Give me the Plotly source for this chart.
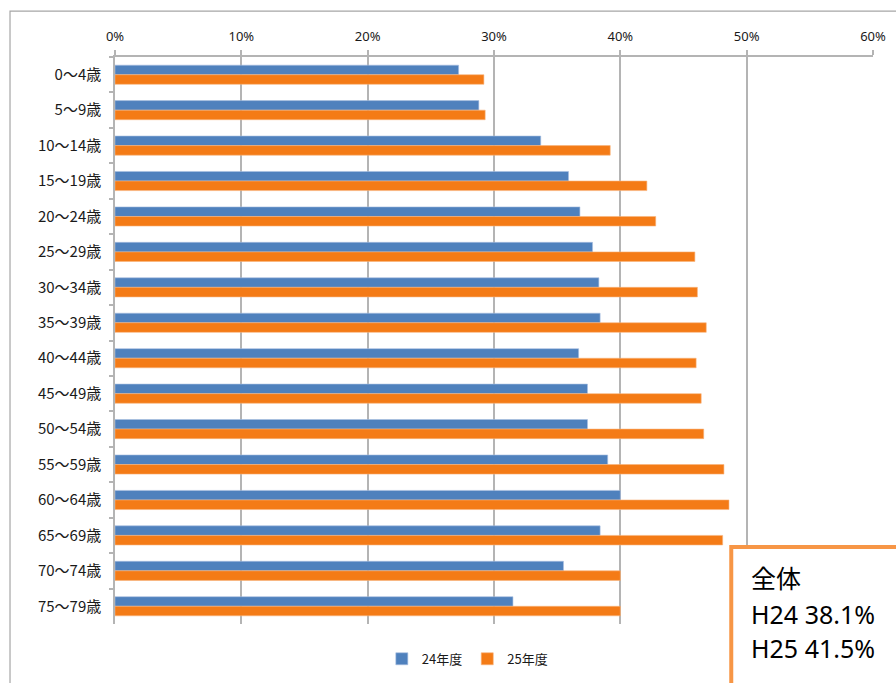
import plotly.graph_objects as go

# Age groups and the share for each fiscal year (fraction)
age_groups = ["0～4歳", "5～9歳", "10～14歳", "15～19歳", "20～24歳", "25～29歳",
              "30～34歳", "35～39歳", "40～44歳", "45～49歳", "50～54歳", "55～59歳",
              "60～64歳", "65～69歳", "70～74歳", "75～79歳"]
fy24 = [0.272, 0.288, 0.337, 0.359, 0.368, 0.378, 0.383, 0.384, 0.367, 0.374,
        0.374, 0.390, 0.400, 0.384, 0.355, 0.315]
fy25 = [0.292, 0.293, 0.392, 0.421, 0.428, 0.459, 0.461, 0.468, 0.460, 0.464,
        0.466, 0.482, 0.486, 0.481, 0.400, 0.400]
series_names = ["24年度", "25年度"]
x_ticks = [0, 0.1, 0.2, 0.3, 0.4, 0.5, 0.6]
summary_title = "全体"
summary_lines = ["H24 38.1%", "H25 41.5%"]

BLUE = "#4f81bd"
ORANGE = "#f47b16"
GRID = "#b4b4b4"
JP = "Noto Sans CJK JP"

fig = go.Figure()
fig.add_trace(go.Bar(y=age_groups, x=fy24, name=series_names[0], orientation="h",
                     marker=dict(color=BLUE, line=dict(color="#a9c0e0", width=0.6))))
fig.add_trace(go.Bar(y=age_groups, x=fy25, name=series_names[1], orientation="h",
                     marker=dict(color=ORANGE, line=dict(color="#f9b47c", width=0.6))))

fig.update_layout(
    width=896, height=683,
    margin=dict(l=115, r=23, t=57, b=59, autoexpand=False),
    paper_bgcolor="white", plot_bgcolor="white",
    barmode="group", bargap=0.46, bargroupgap=0.0,
    font=dict(family=JP, color="#1a1a1a"),
    legend=dict(orientation="h", x=0.352, y=-0.035, xanchor="left", yanchor="top",
                font=dict(family=JP, size=13), itemwidth=30, traceorder="normal"),
    xaxis=dict(side="top", range=[0, 0.6], tickvals=x_ticks, tickformat=".0%",
               showgrid=True, gridcolor=GRID, gridwidth=1.5,
               showline=True, linecolor=GRID, linewidth=1.5,
               ticks="outside", ticklen=5, tickcolor=GRID, tickwidth=1.5,
               ticklabelstandoff=4, automargin=False,
               tickfont=dict(family="Noto Sans", size=13, color="#1a1a1a"),
               zeroline=False, fixedrange=True),
    yaxis=dict(autorange="reversed", type="category",
               showline=True, linecolor=GRID, linewidth=1.5,
               ticks="outside", ticklen=4, tickcolor=GRID, tickwidth=1.5,
               tickson="boundaries", showgrid=False, ticklabelstandoff=9,
               automargin=False,
               tickfont=dict(family=JP, size=15, color="#1a1a1a"),
               fixedrange=True),
)

# Outer chart frame
fig.add_shape(type="rect", xref="paper", yref="paper",
              x0=-0.1385, y0=-0.2, x1=1.2, y1=1.081,
              line=dict(color="#a6a6a6", width=1.2), fillcolor="rgba(0,0,0,0)", layer="below")

# Summary box in the lower right corner
fig.add_shape(type="rect", xref="paper", yref="paper",
              x0=0.813, y0=-0.2, x1=1.2, y1=0.136,
              line=dict(color="#f79646", width=4), fillcolor="white", layer="above")
fig.add_annotation(xref="paper", yref="paper", x=0.837, y=0.083, text=summary_title,
                   showarrow=False, xanchor="left", yanchor="middle",
                   font=dict(family=JP, size=25, color="black"))
for i, line in enumerate(summary_lines):
    fig.add_annotation(xref="paper", yref="paper", x=0.837, y=0.017 - 0.060 * i, text=line,
                       showarrow=False, xanchor="left", yanchor="middle",
                       font=dict(family="Noto Sans", size=25, color="black"))

fig.write_html("out.html")
